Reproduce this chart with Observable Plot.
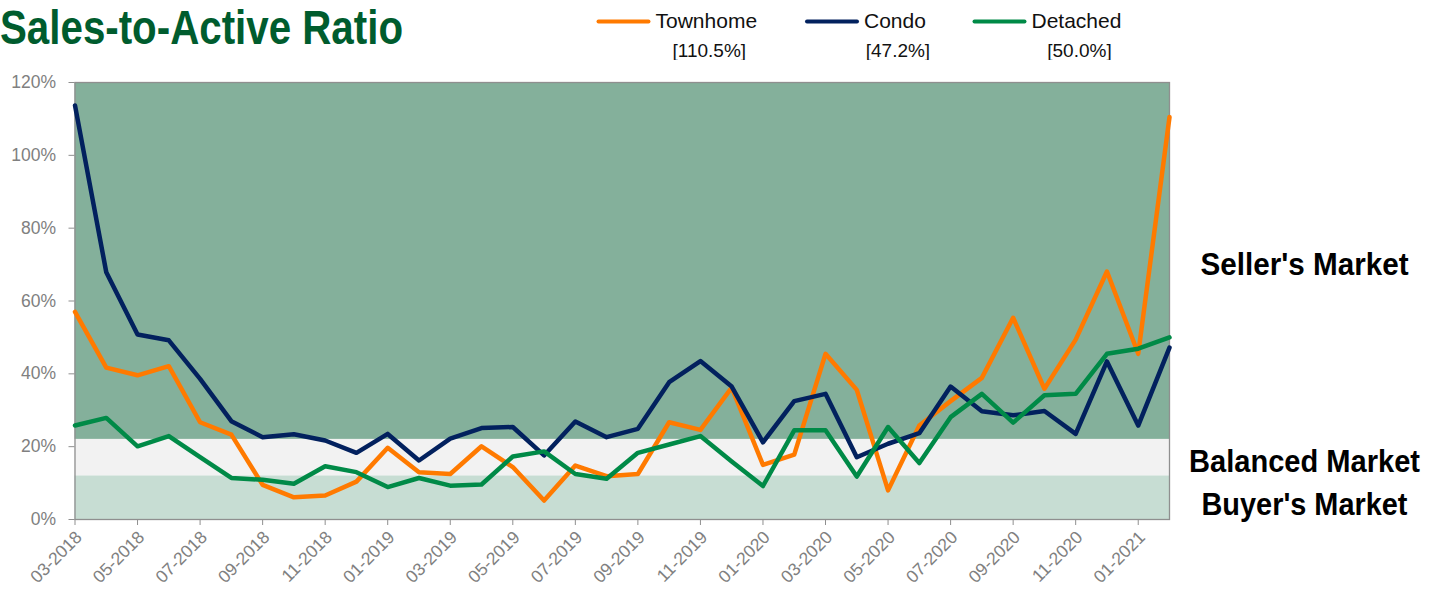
<!DOCTYPE html>
<html><head><meta charset="utf-8">
<script src="https://cdn.jsdelivr.net/npm/d3@7"></script>
<script src="https://cdn.jsdelivr.net/npm/@observablehq/plot@0.6"></script>
<style>
body{margin:0;background:#fff;}
#wrap{position:relative;width:1437px;height:591px;overflow:hidden;font-family:"Liberation Sans",Arial,Helvetica,sans-serif;}
#header{display:block;}
#chart svg{display:block;}
</style></head><body>
<div id="wrap"><svg id="header" width="1437" height="60"></svg><div id="chart"></div></div>
<script>
// ---- data ----
const months = ["03-2018","04-2018","05-2018","06-2018","07-2018","08-2018","09-2018","10-2018","11-2018","12-2018",
  "01-2019","02-2019","03-2019","04-2019","05-2019","06-2019","07-2019","08-2019","09-2019","10-2019","11-2019","12-2019",
  "01-2020","02-2020","03-2020","04-2020","05-2020","06-2020","07-2020","08-2020","09-2020","10-2020","11-2020","12-2020",
  "01-2021","02-2021"];
const townhome = [57.0,41.7,39.6,42.1,26.7,23.3,9.5,6.1,6.6,10.4,19.7,13.0,12.5,20.1,14.4,5.2,14.8,11.9,12.5,26.7,24.6,36.2,15.0,17.8,45.5,35.6,8.0,25.8,32.5,38.9,55.4,35.9,49.4,68.1,45.5,110.5];
const condo = [113.7,67.9,50.8,49.2,38.6,27.0,22.6,23.4,21.7,18.3,23.5,16.2,22.2,25.1,25.4,17.6,26.9,22.6,24.9,37.7,43.5,36.5,21.2,32.5,34.5,17.1,20.8,23.7,36.5,29.7,28.6,29.8,23.5,43.4,25.8,47.2];
const detached = [25.8,27.9,20.1,22.9,17.1,11.4,10.9,9.8,14.6,13.0,8.9,11.4,9.3,9.6,17.3,18.7,12.5,11.2,18.3,20.6,22.9,15.9,9.2,24.5,24.5,11.8,25.4,15.5,28.1,34.5,26.6,34.1,34.5,45.5,46.9,50.0];
const seriesNames = ["Townhome","Condo","Detached"];
const seriesValues = [townhome, condo, detached];
const seriesColors = ["#FF7A00","#02215E","#008A47"];
const yTicks = [0,20,40,60,80,100,120];
const xTickLabels = months.filter((d,i) => i % 2 === 0);
const bandNames = ["Buyer's Market","Balanced Market","Seller's Market"];
const bandLow = [0,12,22];
const bandHigh = [12,22,120];
const bandColors = ["#C7DDD3","#F2F2F2","#84B09B"];
const bandLabelY = [4.0,15.85,70.0];
const bandLabelWidth = [206,231,208];

// ---- header: title + legend ----
const header = d3.select("#header");
header.append("text").attr("x",0).attr("y",43.5)
  .attr("font-family","'Liberation Sans Narrow','Liberation Sans',Arial,sans-serif")
  .attr("font-weight","bold").attr("font-size",49).attr("fill","#005C2E")
  .attr("textLength",403).attr("lengthAdjust","spacingAndGlyphs")
  .text("Sales-to-Active Ratio");
const legendX = [596.5, 805, 972.5];
seriesNames.forEach((s,k) => {
  const x0 = legendX[k];
  const g = header.append("g");
  g.append("line").attr("x1",x0+2).attr("x2",x0+52).attr("y1",21.5).attr("y2",21.5)
    .attr("stroke",seriesColors[k]).attr("stroke-width",4).attr("stroke-linecap","round");
  const t = g.append("text").attr("x",x0+59).attr("y",28.3).attr("font-size",21).attr("fill","#111")
    .attr("font-family","'Liberation Sans',Arial,sans-serif").text(s);
  const w = t.node().getComputedTextLength();
  const last = seriesValues[k][seriesValues[k].length-1];
  g.append("text").attr("x",x0+59+w/2+3).attr("y",56.5).attr("font-size",19).attr("fill","#111")
    .attr("text-anchor","middle").attr("font-family","'Liberation Sans',Arial,sans-serif")
    .text("[" + last.toFixed(1) + "%]");
});

// ---- chart ----
const data = seriesNames.flatMap((s,k) => seriesValues[k].map((v,i) => ({month: months[i], series: s, value: v})));
const bands = bandNames.map((n,i) => ({name:n, lo:bandLow[i], hi:bandHigh[i], fill:bandColors[i], ly:bandLabelY[i], w:bandLabelWidth[i]}));

const chart = Plot.plot({
  width: 1437, height: 531,
  marginTop: 22, marginBottom: 72, marginLeft: 74.5, marginRight: 268,
  style: {fontFamily: "'Liberation Sans',Arial,sans-serif", fontSize: "17.5px", color: "#808080", background: "transparent", overflow: "visible"},
  x: {type: "point", domain: months, padding: 0, round: false, axis: null},
  y: {domain: [0,120], axis: null},
  color: {domain: seriesNames, range: seriesColors},
  marks: [
    ...bands.map(b => Plot.rect([b], {y1: "lo", y2: "hi", fill: b.fill})),
    Plot.frame({stroke: "#8F8F8F", strokeWidth: 1.3}),
    Plot.axisY({ticks: yTicks, tickFormat: d => d + "%", tickSize: 6, tickPadding: 13, stroke: "#8F8F8F", label: null}),
    Plot.axisX({ticks: xTickLabels, tickSize: 6, tickFormat: () => "", stroke: "#8F8F8F", label: null}),
    Plot.axisX({ticks: xTickLabels, tickSize: 0, tickRotate: -45, tickPadding: 15, dx: 4, fontSize: 17.5, label: null}),
    Plot.line(data, {x: "month", y: "value", z: "series", stroke: "series", strokeWidth: 4.5, strokeLinejoin: "round"}),
    Plot.text(bands, {y: "ly", text: "name", frameAnchor: "right", dx: 135, textAnchor: "middle", lineAnchor: "middle",
      fill: "#000", fontWeight: "bold", fontSize: 31, fontFamily: "'Liberation Sans Narrow','Liberation Sans',Arial,sans-serif"})
  ]
});
document.getElementById("chart").appendChild(chart);
// fit market labels to their measured widths
d3.select(chart).selectAll("text").each(function() {
  const i = bandNames.indexOf(this.textContent);
  if (i >= 0) d3.select(this).attr("textLength", bandLabelWidth[i]).attr("lengthAdjust", "spacingAndGlyphs");
});
</script>
</body></html>
